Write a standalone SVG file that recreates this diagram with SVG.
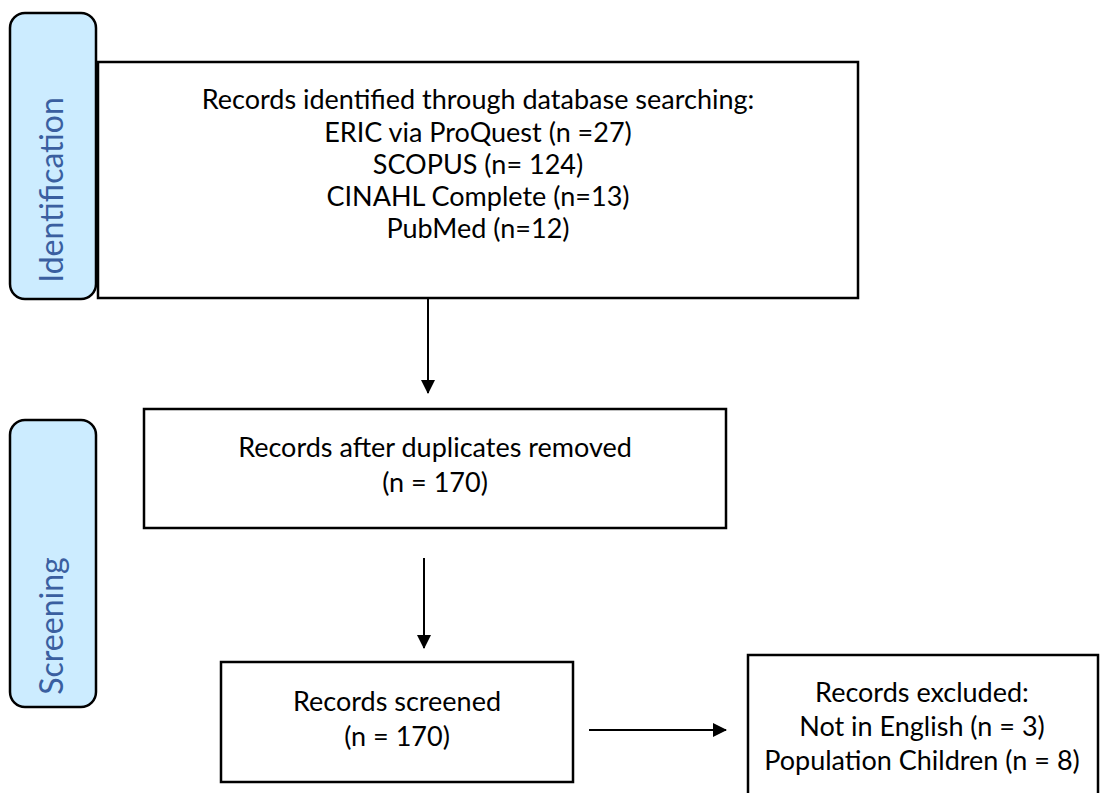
<svg xmlns="http://www.w3.org/2000/svg" width="1101" height="793" viewBox="0 0 1101 793">
<defs>
<style>
.box{fill:#fff;stroke:#000;stroke-width:2.5}
.pill{fill:#CCECFF;stroke:#000;stroke-width:2.5}
.t{font-family:Lato,"Liberation Sans",sans-serif;font-size:27px;fill:#000;text-anchor:middle}
.lab{font-family:Lato,"Liberation Sans",sans-serif;font-size:32px;fill:#3A5FA0;text-anchor:middle}
.con{stroke:#000;stroke-width:2;fill:none}
</style>
<marker id="arr" markerWidth="14" markerHeight="14" refX="13" refY="7" orient="auto" markerUnits="userSpaceOnUse" viewBox="0 0 14 14">
<path d="M0,0 L14,7 L0,14 Z" fill="#000"/>
</marker>
</defs>
<rect width="1101" height="793" fill="#fff"/>
<g id="identification">
<rect class="pill" x="10" y="13" width="86" height="286" rx="15"/>
<text class="lab" transform="translate(63,190) rotate(-90)">Identification</text>
</g>
<g id="screening">
<rect class="pill" x="10" y="420" width="86" height="287" rx="15"/>
<text class="lab" transform="translate(63,626) rotate(-90)">Screening</text>
</g>
<g id="records-identified">
<rect class="box" x="98" y="62" width="760" height="236"/>
<text class="t" x="478" y="109">Records identified through database searching:</text>
<text class="t" x="478" y="142">ERIC via ProQuest (n =27)</text>
<text class="t" x="478" y="174">SCOPUS (n= 124)</text>
<text class="t" x="478" y="206">CINAHL Complete (n=13)</text>
<text class="t" x="478" y="238">PubMed (n=12)</text>
</g>
<g id="duplicates-removed">
<rect class="box" x="144" y="409" width="582" height="119"/>
<text class="t" x="435" y="457">Records after duplicates removed</text>
<text class="t" x="435" y="492">(n = 170)</text>
</g>
<g id="screened">
<rect class="box" x="221" y="662" width="352" height="120"/>
<text class="t" x="397" y="711">Records screened</text>
<text class="t" x="397" y="746">(n = 170)</text>
</g>
<g id="excluded">
<rect class="box" x="748" y="655" width="350" height="145"/>
<text class="t" x="922" y="702">Records excluded:</text>
<text class="t" x="922" y="736">Not in English (n = 3)</text>
<text class="t" x="922" y="770">Population Children (n = 8)</text>
</g>
<g id="connectors">
<line class="con" x1="428" y1="298" x2="428" y2="393" marker-end="url(#arr)"/>
<line class="con" x1="424" y1="558" x2="424" y2="648" marker-end="url(#arr)"/>
<line class="con" x1="589" y1="730" x2="726" y2="730" marker-end="url(#arr)"/>
</g>
</svg>
